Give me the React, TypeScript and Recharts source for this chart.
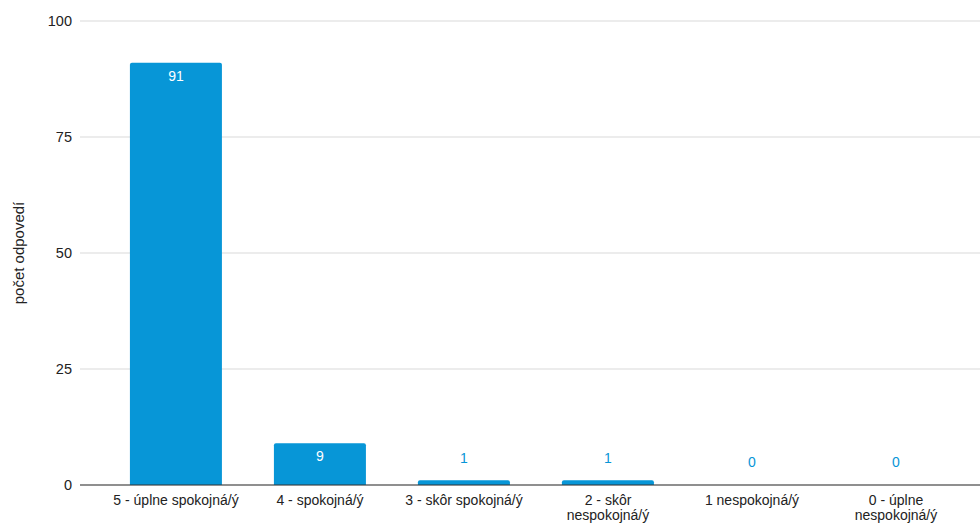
import { Bar, BarChart, CartesianGrid, Cell, LabelList, XAxis, YAxis } from "recharts";

const categories = [
  "5 - úplne spokojná/ý",
  "4 - spokojná/ý",
  "3 - skôr spokojná/ý",
  "2 - skôr\nnespokojná/ý",
  "1 nespokojná/ý",
  "0 - úplne\nnespokojná/ý",
];
const counts = [91, 9, 1, 1, 0, 0];
const yTicks = [0, 25, 50, 75, 100];

const data = categories.map((name, i) => ({ name, count: counts[i] }));

const BLUE = "#0796d7";
const FONT = "'Liberation Sans', Arial, sans-serif";

function CategoryTick({ x, y, payload }: any) {
  const lines = String(payload.value).split("\n");
  return (
    <text x={x} y={y} textAnchor="middle" fontSize={14} fontFamily={FONT} fill="#222">
      {lines.map((line, i) => (
        <tspan key={i} x={x} dy={i === 0 ? 12 : 15}>
          {line}
        </tspan>
      ))}
    </text>
  );
}

// zero bars get a 1px invisible stub so their label still renders
function ValueLabel({ x, y, width, height, value }: any) {
  const inside = height > 28;
  return (
    <text
      x={x + width / 2}
      y={inside ? y + 13 : y - 22}
      textAnchor="middle"
      dominantBaseline="central"
      fontSize={14}
      fontFamily={FONT}
      fill={inside ? "#fff" : BLUE}
    >
      {value}
    </text>
  );
}

function AxisTitle({ viewBox }: any) {
  const cx = 18;
  const cy = viewBox.y + viewBox.height / 2;
  return (
    <text
      x={cx}
      y={cy}
      transform={`rotate(-90 ${cx} ${cy})`}
      textAnchor="middle"
      dominantBaseline="central"
      fontSize={15}
      fontFamily={FONT}
      fill="#222"
    >
      počet odpovedí
    </text>
  );
}

export default function App() {
  return (
    <div style={{ position: "absolute", left: 0, top: 0, background: "#fff" }}>
      <BarChart
        width={980}
        height={526}
        data={data}
        margin={{ top: 21, right: 0, left: 0, bottom: 0 }}
        barCategoryGap="18%"
      >
        <CartesianGrid stroke="#d9d9d9" vertical={false} />
        <XAxis
          dataKey="name"
          height={41}
          interval={0}
          padding={{ left: 24, right: 12 }}
          axisLine={{ stroke: "#333" }}
          tickLine={false}
          tick={<CategoryTick />}
        />
        <YAxis
          width={80}
          domain={[0, 100]}
          ticks={yTicks}
          axisLine={false}
          tickLine={false}
          tickSize={6}
          tickMargin={2}
          tick={{ fontSize: 14.5, fill: "#222", fontFamily: FONT }}
          label={<AxisTitle />}
        />
        <Bar
          dataKey="count"
          fill={BLUE}
          radius={[2, 2, 0, 0]}
          minPointSize={1}
          isAnimationActive={false}
        >
          {data.map((d, i) => (
            <Cell key={i} fill={BLUE} fillOpacity={d.count === 0 ? 0 : 1} />
          ))}
          <LabelList dataKey="count" content={<ValueLabel />} />
        </Bar>
      </BarChart>
    </div>
  );
}
